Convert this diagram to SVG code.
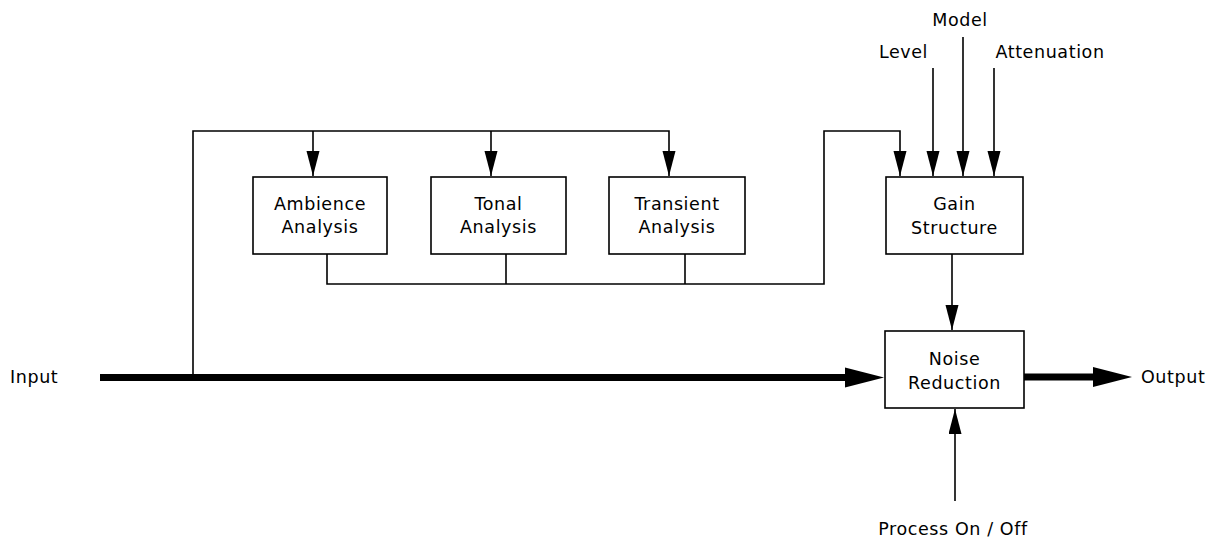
<svg xmlns="http://www.w3.org/2000/svg" width="1220" height="541" viewBox="0 0 1220 541">
  <style>
    .box { fill: #ffffff; stroke: #000000; stroke-width: 1.6; }
    .lbl { font-family: "DejaVu Sans", "Liberation Sans", sans-serif; font-size: 17.5px; letter-spacing: 0.6px; fill: #000000; }
    .mid { text-anchor: middle; }
    .thin { fill: none; stroke: #000000; stroke-width: 1.6; }
    .thick { fill: none; stroke: #000000; stroke-width: 7; }
  </style>
  <defs>
    <marker id="ah" markerUnits="userSpaceOnUse" markerWidth="26" markerHeight="14" refX="25" refY="6.5" orient="auto">
      <path d="M0,0 L25,6.5 L0,13 z" fill="#000000"/>
    </marker>
    <marker id="ahBig" markerUnits="userSpaceOnUse" markerWidth="40" markerHeight="22" refX="0" refY="10.5" orient="auto">
      <path d="M0,0.5 L39,10.5 L0,20.5 z" fill="#000000"/>
    </marker>
  </defs>
  <rect width="1220" height="541" fill="#ffffff"/>

  <g id="connectors">
    <path class="thick" d="M100,377.5 H845" marker-end="url(#ahBig)"/>
    <path class="thick" d="M1024,377 H1093" marker-end="url(#ahBig)"/>
    <path class="thin" d="M193,377 V131 H669 V176" marker-end="url(#ah)"/>
    <path class="thin" d="M313,131 V176" marker-end="url(#ah)"/>
    <path class="thin" d="M491,131 V176" marker-end="url(#ah)"/>
    <path class="thin" d="M327,254 V284 H824 V131 H900 V176" marker-end="url(#ah)"/>
    <path class="thin" d="M506,254 V284"/>
    <path class="thin" d="M685,254 V284"/>
    <path class="thin" d="M933,68 V176" marker-end="url(#ah)"/>
    <path class="thin" d="M963,37 V176" marker-end="url(#ah)"/>
    <path class="thin" d="M994,68 V176" marker-end="url(#ah)"/>
    <path class="thin" d="M952,254 V330" marker-end="url(#ah)"/>
    <path class="thin" d="M955,501 V409" marker-end="url(#ah)"/>
  </g>

  <g id="ambience">
    <rect class="box" x="253" y="177" width="134" height="77"/>
    <text class="lbl mid" x="320" y="210">Ambience</text>
    <text class="lbl mid" x="320" y="233">Analysis</text>
  </g>
  <g id="tonal">
    <rect class="box" x="431" y="177" width="135" height="77"/>
    <text class="lbl mid" x="498.5" y="210">Tonal</text>
    <text class="lbl mid" x="498.5" y="233">Analysis</text>
  </g>
  <g id="transient">
    <rect class="box" x="609" y="177" width="136" height="77"/>
    <text class="lbl mid" x="677" y="210">Transient</text>
    <text class="lbl mid" x="677" y="233">Analysis</text>
  </g>
  <g id="gain">
    <rect class="box" x="886" y="177" width="137" height="77"/>
    <text class="lbl mid" x="954.5" y="210">Gain</text>
    <text class="lbl mid" x="954.5" y="234">Structure</text>
  </g>
  <g id="noise">
    <rect class="box" x="885" y="331" width="139" height="77"/>
    <text class="lbl mid" x="954.5" y="365">Noise</text>
    <text class="lbl mid" x="954.5" y="389">Reduction</text>
  </g>

  <g id="input"><text class="lbl" x="10" y="383">Input</text></g>
  <g id="output"><text class="lbl" x="1141" y="383">Output</text></g>
  <g id="level"><text class="lbl mid" x="903.5" y="58">Level</text></g>
  <g id="model"><text class="lbl mid" x="960" y="26">Model</text></g>
  <g id="attenuation"><text class="lbl mid" x="1050" y="58">Attenuation</text></g>
  <g id="process"><text class="lbl mid" x="953" y="535">Process On / Off</text></g>
</svg>
